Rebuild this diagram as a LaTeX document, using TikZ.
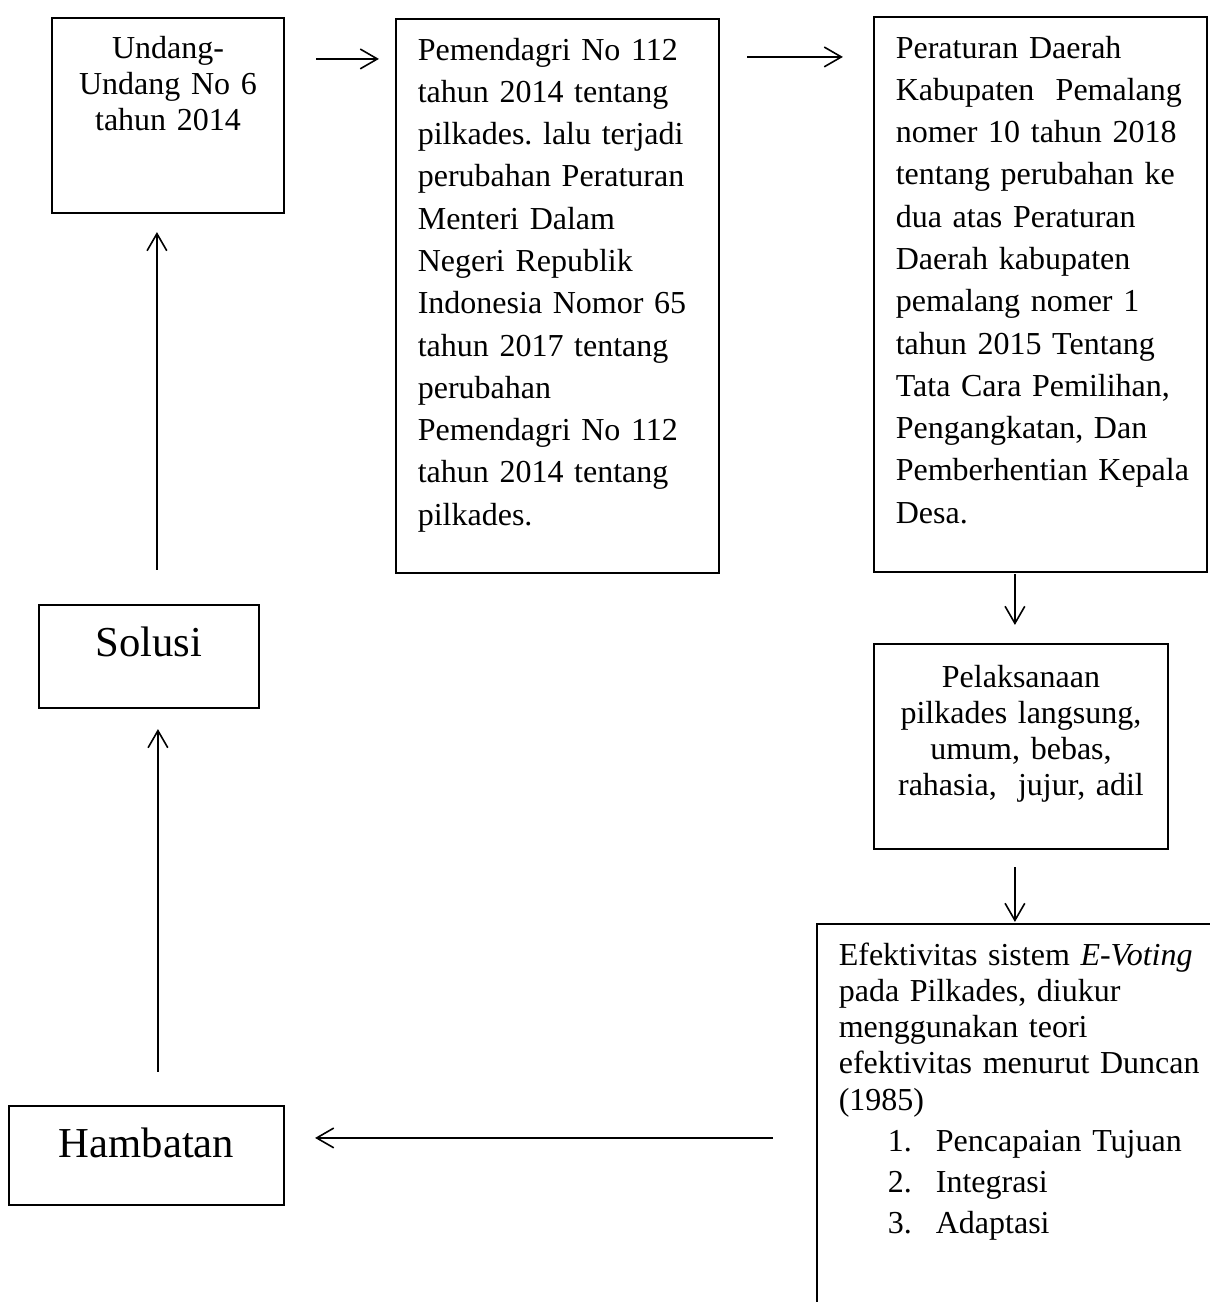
\documentclass[tikz,border=0pt]{standalone}
\usepackage{fontspec}
\setmainfont{Liberation Serif}
\usetikzlibrary{arrows.meta,calc,fit}
\frenchspacing
\begin{document}
\begin{tikzpicture}[x=0.375pt,y=-0.375pt,line width=0.6pt,
    kotak/.style={draw,line width=0.8pt,inner sep=0pt},
    teks/.style={inner sep=0pt,text width=#1},
    kecil/.style={font=\fontsize{12}{13.6}\selectfont},
    isi/.style={font=\fontsize{12}{15.86}\selectfont},
    besar/.style={inner sep=0pt,font=\fontsize{16}{19}\selectfont},
    panah/.style={-{Straight Barb[length=6.4pt,width=7.4pt]}}]
    \clip(0,0)rectangle(1210,1302);
    \node[kotak,fit={(52,18)(284,213)}](uu){};
    \node[kotak,fit={(396,19)(719,573)}](pm){};
    \node[kotak,fit={(874,17)(1207,572)}](pd){};
    \node[kotak,fit={(874,644)(1168,849)}](pl){};
    \node[kotak,fit={(817,924)(1240,1340)}](ef){};
    \node[kotak,fit={(39,605)(259,708)}](so){};
    \node[kotak,fit={(9,1106)(284,1205)}](hb){};
    \node[teks=90pt,kecil,align=center,anchor=base](uu-t)at(168,58){Undang-\\Undang No 6\\tahun 2014};
    \node[teks=118pt,isi,align=left,anchor=base west](pm-t)at(417,60){Pemendagri No 112\\tahun 2014 tentang\\pilkades. lalu terjadi\\perubahan Peraturan\\Menteri Dalam\\Negeri Republik\\Indonesia Nomor 65\\tahun 2017 tentang\\perubahan\\Pemendagri No 112\\tahun 2014 tentang\\pilkades.};
    \node[teks=118pt,isi,align=left,anchor=base west](pd-t)at(895,58){Peraturan Daerah\\Kabupaten\ \ Pemalang\\nomer 10 tahun 2018\\tentang perubahan ke\\dua atas Peraturan\\Daerah kabupaten\\pemalang nomer 1\\tahun 2015 Tentang\\Tata Cara Pemilihan,\\Pengangkatan, Dan\\Pemberhentian Kepala\\Desa.};
    \node[teks=108pt,kecil,align=center,anchor=base](pl-t)at(1021,687){Pelaksanaan\\pilkades langsung,\\umum, bebas,\\rahasia,\ \ jujur, adil};
    \node[teks=145pt,kecil,align=left,anchor=base west](ef-t)at(838,965){Efektivitas sistem \textit{E-Voting}\\pada Pilkades, diukur\\menggunakan teori\\efektivitas menurut Duncan\\(1985)\\[1.8pt]
        \hspace*{18.4pt}\makebox[18pt][l]{1.}Pencapaian Tujuan\\[1.8pt]
        \hspace*{18.4pt}\makebox[18pt][l]{2.}Integrasi\\[1.8pt]
        \hspace*{18.4pt}\makebox[18pt][l]{3.}Adaptasi};
    \node[besar,anchor=base](so-t)at(149,656){Solusi};
    \node[besar,anchor=base](hb-t)at(146.5,1157){Hambatan};
    \draw[panah]($(uu.north east)+(31,42)$)--($(pm.north west)+(-16,41)$);
    \draw[panah]($(pm.north east)+(27,39)$)--($(pd.north west)+(-30,41)$);
    \draw[panah]($(pd.south west)+(142,1)$)--($(pl.north west)+(142,-18)$);
    \draw[panah]($(pl.south west)+(142,17)$)--($(ef.north west)+(199,-1)$);
    \draw[panah]($(ef.north west)+(-43,215)$)--($(hb.north east)+(30,33)$);
    \draw[panah]($(hb.north west)+(150,-33)$)--($(so.south west)+(120,20)$);
    \draw[panah]($(so.north west)+(119,-34)$)--($(uu.south west)+(106,18)$);
\end{tikzpicture}
\end{document}
